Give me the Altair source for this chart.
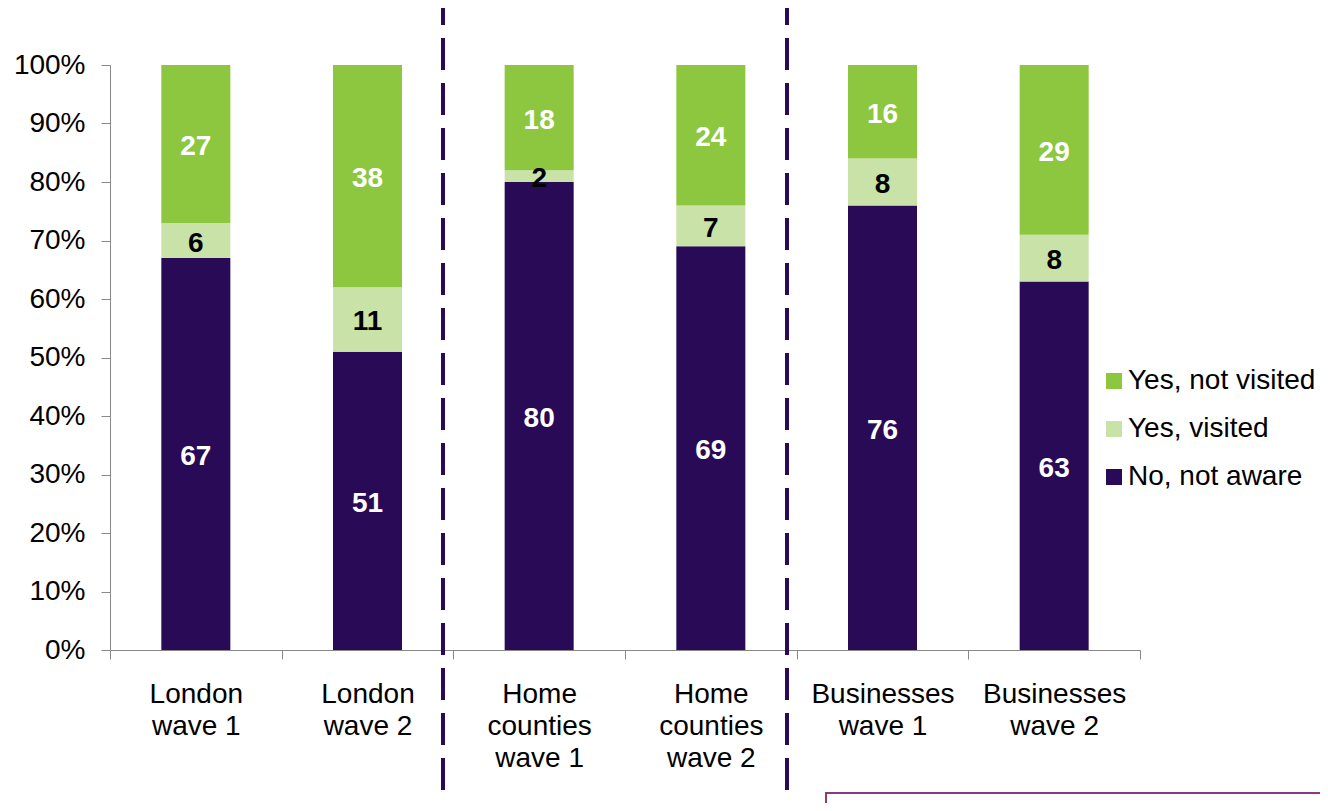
import altair as alt
import pandas as pd

categories = ["London\nwave 1", "London\nwave 2", "Home\ncounties\nwave 1",
              "Home\ncounties\nwave 2", "Businesses\nwave 1", "Businesses\nwave 2"]
series = ["Yes, not visited", "Yes, visited", "No, not aware"]
no_not_aware = [67, 51, 80, 69, 76, 63]
yes_visited = [6, 11, 2, 7, 8, 8]
yes_not_visited = [27, 38, 18, 24, 16, 29]

colors = ["#8dc63f", "#c9e2a8", "#290a56"]
text_colors = {"Yes, not visited": "white", "Yes, visited": "black", "No, not aware": "white"}
stack_order = {"No, not aware": 0, "Yes, visited": 1, "Yes, not visited": 2}

rows = []
for i, c in enumerate(categories):
    for s, vals in [("No, not aware", no_not_aware), ("Yes, visited", yes_visited),
                    ("Yes, not visited", yes_not_visited)]:
        rows.append({"cat": c, "series": s, "value": vals[i] / 100.0,
                     "label": str(vals[i]), "ord": stack_order[s], "tc": text_colors[s]})
df = pd.DataFrame(rows)

FONT = "Liberation Sans"
FS = 28
W, H = 1030, 585

x_enc = alt.X("cat:N", sort=categories, title=None,
              axis=alt.Axis(labelExpr="split(datum.label, '\\n')", labelAngle=0,
                            labelFont=FONT, labelFontSize=FS, labelColor="black",
                            labelLineHeight=32, labelPadding=21, tickBand="extent",
                            tickSize=9, tickColor="#888888", domainColor="#888888",
                            labelBaseline="top", labelLimit=300),
              scale=alt.Scale(paddingInner=0, paddingOuter=0))

base = alt.Chart(df)

bars = base.mark_bar(width=69).encode(
    x=x_enc,
    y=alt.Y("value:Q", stack="zero", title=None,
            scale=alt.Scale(domain=[0, 1]),
            axis=alt.Axis(format=".0%", values=[i / 10 for i in range(11)],
                          labelFont=FONT, labelFontSize=FS, labelColor="black",
                          tickSize=9, tickColor="#888888", domainColor="#888888",
                          labelPadding=16, grid=False)),
    color=alt.Color("series:N", scale=alt.Scale(domain=series, range=colors),
                    legend=alt.Legend(title=None, orient="none", legendX=990, legendY=302,
                                      symbolType="square", symbolSize=256,
                                      symbolStrokeWidth=0, labelFont=FONT,
                                      labelFontSize=FS, labelColor="black",
                                      labelOffset=0, rowPadding=20, padding=0,
                                      labelLimit=400)),
    order=alt.Order("ord:Q"),
)

labels = base.transform_stack(
    stack="value", groupby=["cat"], as_=["y0", "y1"],
    sort=[alt.SortField("ord", order="ascending")]
).transform_calculate(
    mid="(datum.y0 + datum.y1) / 2"
).mark_text(font=FONT, fontSize=FS, fontWeight="bold", baseline="middle", dy=3).encode(
    x=alt.X("cat:N", sort=categories),
    y=alt.Y("mid:Q"),
    text="label:N",
    color=alt.Color("tc:N", scale=None),
)

one = alt.Chart(pd.DataFrame({"a": [0]}))
dash1 = one.mark_rule(color="#290a56", strokeWidth=4, strokeDash=[32, 13],
                      strokeDashOffset=15).encode(
    x=alt.value(333), y=alt.value(-57), y2=alt.value(760))
dash2 = one.mark_rule(color="#290a56", strokeWidth=4, strokeDash=[32, 13],
                      strokeDashOffset=15).encode(
    x=alt.value(677), y=alt.value(-57), y2=alt.value(760))
box = one.mark_rect(fill=None, stroke="#8b3a7d", strokeWidth=2).encode(
    x=alt.value(716), x2=alt.value(1300), y=alt.value(728), y2=alt.value(900))

chart = alt.layer(bars, labels, dash1, dash2, box).properties(
    width=W, height=H,
    autosize=alt.AutoSizeParams(type="none"),
    padding={"left": 102, "top": 57, "right": 180, "bottom": 153},
).configure_view(stroke=None).configure_axis(domainWidth=1, tickWidth=1)

chart.save("out.html", embed_options={"renderer": "svg", "actions": False})
